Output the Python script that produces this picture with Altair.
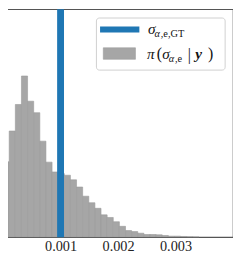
import altair as alt
import pandas as pd

# ---- data ----
bin_width = 0.0001065
bin_start = [i * bin_width for i in range(32)]
counts = [230, 324, 405, 492, 415, 380, 293, 229, 199, 194, 189, 175, 153, 125,
          105, 88, 68, 60, 47, 33, 20, 17, 12, 8, 8, 7, 5, 3, 3, 2, 1, 0.5]
gt_value = [0.001]
x_ticks = [0.001, 0.002, 0.003]

hist = pd.DataFrame({
    "start": bin_start,
    "end": [s + bin_width for s in bin_start],
    "count": counts,
    "zero": [0] * len(counts),
})
gt = pd.DataFrame({"gt": gt_value})

W, H = 234, 232
SERIF = "Liberation Serif"

xscale = alt.Scale(domain=[0, 0.004], nice=False, zero=False)
yscale = alt.Scale(domain=[0, 696], nice=False)

bars = alt.Chart(hist).mark_bar(
    color="#a6a6a6", stroke="#9a9a9a", strokeWidth=0.6, clip=True
).encode(
    x=alt.X("start:Q", scale=xscale, axis=alt.Axis(
        values=x_ticks, format=".3f", title=None, ticks=False, grid=False,
        domain=False, labelFont=SERIF, labelFontSize=14.5, labelColor="#222",
        labelPadding=3)),
    x2="end:Q",
    y=alt.Y("count:Q", scale=yscale, axis=None),
    y2="zero:Q",
)

rule = alt.Chart(gt).mark_rule(color="#1f77b4", strokeWidth=7).encode(
    x=alt.X("gt:Q", scale=xscale)
)

one = pd.DataFrame({"a": [0]})

legend_box = alt.Chart(one).mark_rect(
    fill="white", fillOpacity=0.8, stroke="#d0d0d0", strokeWidth=1, cornerRadius=3
).encode(x=alt.value(95), x2=alt.value(226), y=alt.value(9), y2=alt.value(62))

sw_blue = alt.Chart(one).mark_rect(color="#1f77b4").encode(
    x=alt.value(98.7), x2=alt.value(138.7), y=alt.value(17.7), y2=alt.value(23.7))
sw_gray = alt.Chart(one).mark_rect(color="#a6a6a6", stroke="#9a9a9a", strokeWidth=0.6).encode(
    x=alt.value(102), x2=alt.value(134.7), y=alt.value(39.3), y2=alt.value(51))

# legend text pieces: (text, x, y baseline, size, style, weight)
pieces = [
    ("σ", 147.5, 24.8, 15.5, "italic", "normal"),
    ("α", 154.0, 28.3, 10.5, "italic", "normal"),
    (",e,GT", 160.5, 28.3, 10.5, "normal", "normal"),
    ("π", 146.5, 50.3, 15.5, "italic", "normal"),
    ("(", 156.5, 51.0, 16, "normal", "normal"),
    ("σ", 162.0, 50.3, 15.5, "italic", "normal"),
    ("α", 168.5, 54.0, 10.5, "italic", "normal"),
    (",e", 175.0, 54.0, 10.5, "normal", "normal"),
    ("|", 188.0, 51.5, 16, "normal", "normal"),
    ("y", 195.5, 50.3, 15.5, "italic", "bold"),
    (")", 208.5, 51.0, 16, "normal", "normal"),
]
texts = []
for t, px, py, sz, st, wt in pieces:
    texts.append(alt.Chart(one).mark_text(
        text=t, font=SERIF, fontSize=sz, fontStyle=st, fontWeight=wt,
        align="left", baseline="alphabetic", color="#111"
    ).encode(x=alt.value(px), y=alt.value(py)))

chart = alt.layer(bars, rule, legend_box, sw_blue, sw_gray, *texts).properties(
    width=W, height=H,
    padding={"left": -5, "top": -5, "right": 0, "bottom": 0},
).configure_view(stroke="#555555", strokeWidth=1.2)

chart.save("out.html", embed_options={"renderer": "svg", "actions": False})
